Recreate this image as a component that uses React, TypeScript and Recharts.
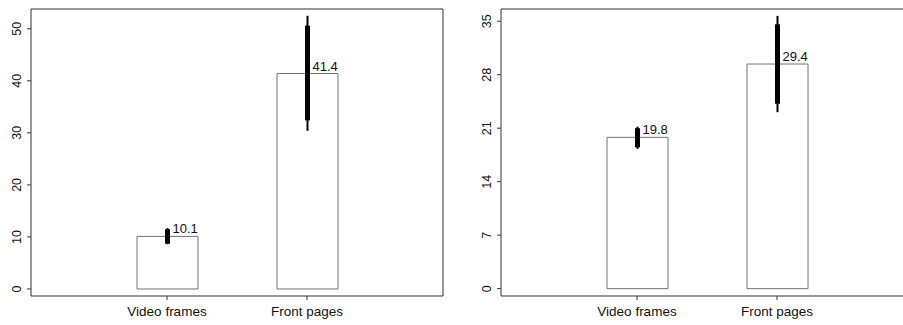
import React from "react";
import {
	BarChart,
	Bar,
	XAxis,
	YAxis,
	ErrorBar,
	LabelList,
} from "recharts";

const categories = ["Video frames", "Front pages"];

// left panel
const leftValues = [10.1, 41.4];
const leftThick = [
	[8.7, 11.5],
	[32.4, 50.6],
];
const leftThin = [
	[8.6, 11.7],
	[30.4, 52.5],
];
const leftTicks = [0, 10, 20, 30, 40, 50];

// right panel
const rightValues = [19.8, 29.4];
const rightThick = [
	[18.5, 21.0],
	[24.2, 34.6],
];
const rightThin = [
	[18.3, 21.2],
	[23.1, 35.7],
];
const rightTicks = [0, 7, 14, 21, 28, 35];

const FONT = "'Liberation Sans', Arial, sans-serif";
const FRAME = "#333333";
const BAR_EDGE = "#737373";

function buildRows(values: number[], thick: number[][], thin: number[][]) {
	return categories.map((name, i) => ({
		name,
		value: values[i],
		thick: [values[i] - thick[i][0], thick[i][1] - values[i]],
		thin: [values[i] - thin[i][0], thin[i][1] - values[i]],
	}));
}

const YTick = (props: any) => {
	const { y, payload } = props;
	return (
		<text
			transform={`translate(21, ${y}) rotate(-90)`}
			textAnchor="middle"
			fontSize={12.5}
			fontFamily={FONT}
			fill="#111"
		>
			{payload.value}
		</text>
	);
};

const XTick = (props: any) => {
	const { x, payload } = props;
	return (
		<text
			x={x}
			y={316}
			textAnchor="middle"
			fontSize={13.5}
			fontFamily={FONT}
			fill="#111"
		>
			{payload.value}
		</text>
	);
};

const ValueLabel = (props: any) => {
	const { x, y, width, value } = props;
	return (
		<text
			x={x + width / 2 + 5}
			y={y - 3}
			fontSize={13}
			fontFamily={FONT}
			fill="#111"
		>
			{value}
		</text>
	);
};

type PanelProps = {
	rows: ReturnType<typeof buildRows>;
	domain: [number, number];
	ticks: number[];
};

function Panel({ rows, domain, ticks }: PanelProps) {
	return (
		<BarChart
			width={450}
			height={325}
			data={rows}
			margin={{ top: 8, right: 6, bottom: 0, left: 0 }}
		>
			<XAxis
				dataKey="name"
				height={29}
				padding={{ left: 66, right: 66 }}
				tickSize={4}
				tick={<XTick />}
				tickLine={{ stroke: FRAME }}
				axisLine={{ stroke: FRAME }}
				interval={0}
			/>
			<XAxis
				xAxisId="top"
				dataKey="name"
				orientation="top"
				height={1}
				tick={false}
				tickLine={false}
				axisLine={{ stroke: FRAME }}
			/>
			<YAxis
				width={31}
				type="number"
				domain={domain}
				allowDataOverflow
				ticks={ticks}
				interval={0}
				tickSize={4}
				tick={<YTick />}
				tickLine={{ stroke: FRAME }}
				axisLine={{ stroke: FRAME }}
			/>
			<YAxis
				yAxisId="right"
				orientation="right"
				width={1}
				tick={false}
				tickLine={false}
				axisLine={{ stroke: FRAME }}
			/>
			<Bar
				dataKey="value"
				barSize={61}
				fill="#ffffff"
				stroke={BAR_EDGE}
				strokeWidth={1}
				isAnimationActive={false}
			>
				<ErrorBar
					dataKey="thin"
					width={0}
					stroke="#000"
					strokeWidth={2}
					direction="y"
				/>
				<ErrorBar
					dataKey="thick"
					width={0}
					stroke="#000"
					strokeWidth={5}
					direction="y"
				/>
				<LabelList dataKey="value" content={<ValueLabel />} />
			</Bar>
		</BarChart>
	);
}

export default function App() {
	const leftRows = buildRows(leftValues, leftThick, leftThin);
	const rightRows = buildRows(rightValues, rightThick, rightThin);
	return (
		<div
			style={{
				position: "fixed",
				top: 0,
				left: 0,
				width: 903,
				height: 325,
				overflow: "hidden",
				background: "#fff",
			}}
		>
			<div style={{ position: "absolute", left: 0, top: 0 }}>
				<Panel rows={leftRows} domain={[-1.35, 53.8]} ticks={leftTicks} />
			</div>
			<div style={{ position: "absolute", left: 470, top: 0 }}>
				<Panel rows={rightRows} domain={[-0.96, 36.6]} ticks={rightTicks} />
			</div>
		</div>
	);
}
